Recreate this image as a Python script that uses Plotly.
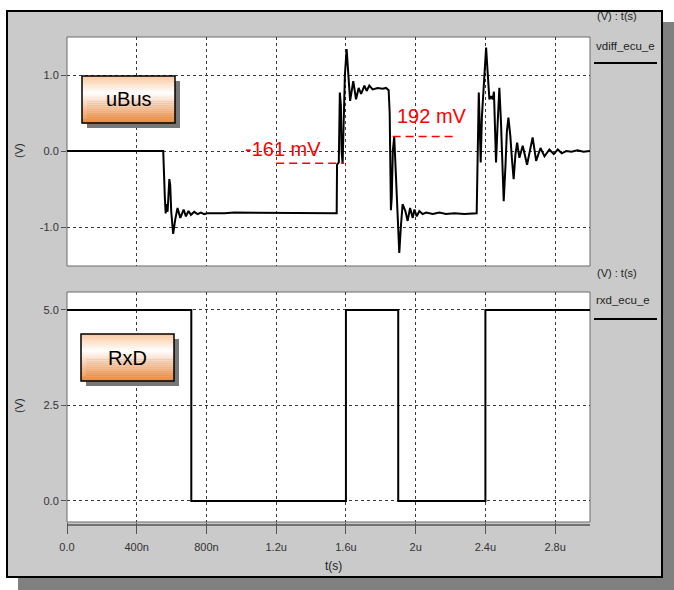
import plotly.graph_objects as go

W, H = 674, 590

# ---------------- data ----------------
# differential bus voltage (V) vs time (µs)
t_bus = [0.000, 0.552, 0.561, 0.566, 0.572, 0.577, 0.587, 0.592, 0.598, 0.609,
         0.621, 0.634, 0.650, 0.669, 0.682, 0.697, 0.711, 0.730, 0.749, 0.768,
         0.787, 0.805, 0.902, 0.960, 1.547, 1.549, 1.559, 1.565, 1.571, 1.575,
         1.581, 1.588, 1.594, 1.604, 1.611, 1.624, 1.642, 1.658, 1.673, 1.687,
         1.706, 1.719, 1.734, 1.753, 1.782, 1.811, 1.830, 1.845, 1.851, 1.858,
         1.863, 1.869, 1.877, 1.882, 1.888, 1.892, 1.898, 1.906, 1.915, 1.925,
         1.941, 1.954, 1.968, 1.983, 1.993, 2.006, 2.021, 2.040, 2.060, 2.098,
         2.136, 2.174, 2.222, 2.279, 2.350, 2.354, 2.362, 2.368, 2.373, 2.380,
         2.386, 2.391, 2.404, 2.411, 2.423, 2.433, 2.442, 2.449, 2.455, 2.461,
         2.469, 2.480, 2.489, 2.498, 2.505, 2.515, 2.523, 2.532, 2.543, 2.552,
         2.562, 2.572, 2.582, 2.595, 2.614, 2.639, 2.652, 2.671, 2.691, 2.716,
         2.739, 2.767, 2.792, 2.815, 2.838, 2.863, 2.894, 2.928, 2.962, 3.000]
v_bus = [0.00, 0.00, -0.60, -0.82, -0.70, -0.80, -0.37, -0.45, -0.80, -1.09,
         -0.90, -0.75, -0.88, -0.77, -0.86, -0.79, -0.84, -0.80, -0.83, -0.81,
         -0.83, -0.82, -0.82, -0.81, -0.82, -0.18, -0.15, 0.77, 0.60, 0.00,
         -0.17, 0.40, 1.00, 1.34, 1.10, 0.66, 0.92, 0.68, 0.83, 0.75,
         0.86, 0.79, 0.86, 0.81, 0.83, 0.82, 0.83, 0.80, 0.50, -0.78,
         -0.60, 0.00, 0.19, -0.10, -0.35, -0.50, -1.00, -1.34, -1.00, -0.70,
         -0.79, -0.92, -0.75, -0.88, -0.77, -0.86, -0.79, -0.83, -0.81, -0.83,
         -0.81, -0.83, -0.82, -0.83, -0.82, -0.15, 0.77, 0.30, -0.15, 0.45,
         0.72, 0.90, 1.36, 1.10, 0.68, 0.72, 0.68, 0.78, 0.40, -0.15,
         0.30, 0.83, 0.40, -0.30, -0.66, -0.20, 0.25, 0.44, 0.20, -0.10,
         -0.37, -0.05, 0.11, -0.09, 0.07, -0.18, -0.02, 0.18, -0.13, 0.04,
         -0.07, 0.02, -0.04, 0.02, -0.03, 0.00, -0.01, 0.01, -0.01, 0.00]

# receiver output (V): step levels at edge times (µs)
t_rxd = [0.0, 0.713, 1.6, 1.9, 2.4, 3.0]
v_rxd = [5.0, 0.0, 5.0, 0.0, 5.0, 5.0]

# measured levels (V) and the time spans of their markers (µs)
level_names = ["-161 mV", "192 mV"]
level_values = [-0.161, 0.192]
level_t0 = [1.2, 1.868]
level_t1 = [1.59, 2.228]

x_tickvals = [0.0, 0.4, 0.8, 1.2, 1.6, 2.0, 2.4, 2.8]
x_ticktext = ["0.0", "400n", "800n", "1.2u", "1.6u", "2u", "2.4u", "2.8u"]
y1_tickvals = [1.0, 0.0, -1.0]
y1_ticktext = ["1.0", "0.0", "-1.0"]
y2_tickvals = [5.0, 2.5, 0.0]
y2_ticktext = ["5.0", "2.5", "0.0"]

# ---------------- layout helpers ----------------
def fx(px):
    return px / W

def fy(py):
    return 1 - py / H

FONT = "Liberation Sans"
PLOT_L, PLOT_R = 67, 590
TOP_T, TOP_B = 37, 266
BOT_T, BOT_B = 292, 522

fig = go.Figure()
fig.add_trace(go.Scatter(x=t_bus, y=v_bus, mode="lines",
                         line=dict(color="black", width=2),
                         xaxis="x", yaxis="y", showlegend=False,
                         hoverinfo="skip"))
fig.add_trace(go.Scatter(x=t_rxd, y=v_rxd, mode="lines", line_shape="hv",
                         line=dict(color="black", width=2),
                         xaxis="x2", yaxis="y2", showlegend=False,
                         hoverinfo="skip"))

shapes = []
# shadow + frame
shapes.append(dict(type="rect", xref="paper", yref="paper", layer="below",
                   x0=fx(18), x1=fx(674), y0=fy(590), y1=fy(22),
                   fillcolor="#808080", line=dict(width=0)))
shapes.append(dict(type="rect", xref="paper", yref="paper", layer="below",
                   x0=fx(7), x1=fx(662), y0=fy(577), y1=fy(11),
                   fillcolor="#cacaca", line=dict(color="black", width=2)))
# plot areas
for (t, b) in [(TOP_T, TOP_B), (BOT_T, BOT_B)]:
    shapes.append(dict(type="rect", xref="paper", yref="paper", layer="below",
                       x0=fx(PLOT_L), x1=fx(PLOT_R), y0=fy(b), y1=fy(t),
                       fillcolor="white", line=dict(color="#6a6a6a", width=1)))
# bottom axis line
shapes.append(dict(type="line", xref="paper", yref="paper", layer="above",
                   x0=fx(PLOT_L), x1=fx(PLOT_R), y0=fy(525), y1=fy(525),
                   line=dict(color="#555555", width=1.5)))
# legend sample lines
for ly in [63, 319]:
    shapes.append(dict(type="line", xref="paper", yref="paper", layer="above",
                       x0=fx(594), x1=fx(657), y0=fy(ly), y1=fy(ly),
                       line=dict(color="black", width=2)))

# gradient label boxes
def grad_color(f):
    stops = [(0.0, (250, 200, 158)), (0.36, (255, 255, 255)), (1.0, (240, 136, 56))]
    for (a, ca), (b, cb) in zip(stops[:-1], stops[1:]):
        if a <= f <= b:
            k = (f - a) / (b - a)
            c = [round(ca[i] + (cb[i] - ca[i]) * k) for i in range(3)]
            return "rgb(%d,%d,%d)" % tuple(c)
    return "rgb(240,136,56)"

def label_box(x0, y0, x1, y1):
    shapes.append(dict(type="rect", xref="paper", yref="paper", layer="above",
                       x0=fx(x0 + 5), x1=fx(x1 + 5), y0=fy(y1 + 5), y1=fy(y0 + 5),
                       fillcolor="#777777", line=dict(width=0)))
    n = 24
    hgt = (y1 - y0) / n
    for i in range(n):
        ya = y0 + i * hgt
        shapes.append(dict(type="rect", xref="paper", yref="paper", layer="above",
                           x0=fx(x0), x1=fx(x1), y0=fy(ya + hgt + 0.4), y1=fy(ya),
                           fillcolor=grad_color((i + 0.5) / n), line=dict(width=0)))
    shapes.append(dict(type="rect", xref="paper", yref="paper", layer="above",
                       x0=fx(x0), x1=fx(x1), y0=fy(y1), y1=fy(y0),
                       fillcolor="rgba(0,0,0,0)", line=dict(color="black", width=1.5)))

label_box(82, 76, 175, 123)
label_box(81, 334, 174, 381)

# red measurement markers
for val, a, b in zip(level_values, level_t0, level_t1):
    shapes.append(dict(type="line", xref="x", yref="y", layer="above",
                       x0=a, x1=b, y0=val, y1=val,
                       line=dict(color="red", width=1.5, dash="8px,5px")))

annotations = []
def text(x, y, s, size=11, color="#222222", xanchor="center", angle=0):
    annotations.append(dict(x=fx(x), y=fy(y), xref="paper", yref="paper",
                            text=s, showarrow=False, xanchor=xanchor,
                            yanchor="middle", textangle=angle,
                            font=dict(family=FONT, size=size, color=color)))

text(128.5, 99.5, "uBus", size=20, color="black")
text(127.5, 357.5, "RxD", size=20, color="black")
text(595, 16, "(V) : t(s)", size=11, xanchor="left")
text(594, 46, "vdiff_ecu_e", size=11.5, xanchor="left")
text(595, 273, "(V) : t(s)", size=11, xanchor="left")
text(594, 300, "rxd_ecu_e", size=11.5, xanchor="left")
text(19, 151, "(V)", size=11, angle=-90)
text(19, 406, "(V)", size=11, angle=-90)
text(333, 566, "t(s)", size=12)

# red level labels placed at their measured levels
annotations.append(dict(x=1.241, y=0.026, xref="x", yref="y", text=level_names[0],
                        showarrow=False, font=dict(family=FONT, size=20, color="red")))
annotations.append(dict(x=2.096, y=0.46, xref="x", yref="y", text=level_names[1],
                        showarrow=False, font=dict(family=FONT, size=20, color="red")))

grid = dict(showgrid=True, gridcolor="#3a3a3a", griddash="dot", gridwidth=1,
            zeroline=False, showline=False, automargin=False)
tickfont = dict(family=FONT, size=11, color="#333333")

fig.update_layout(
    width=W, height=H,
    margin=dict(l=0, r=0, t=0, b=0, pad=0),
    paper_bgcolor="white", plot_bgcolor="rgba(0,0,0,0)",
    showlegend=False,
    xaxis=dict(domain=[fx(PLOT_L), fx(PLOT_R)], range=[0, 3.0], anchor="y",
               tickvals=x_tickvals, ticktext=x_ticktext, showticklabels=False,
               ticks="", **grid),
    yaxis=dict(domain=[fy(TOP_B), fy(TOP_T)], range=[-1.513, 1.5], anchor="x",
               tickvals=y1_tickvals, ticktext=y1_ticktext, ticks="outside",
               ticklen=5, tickcolor="#555555", tickfont=tickfont, **grid),
    xaxis2=dict(domain=[fx(PLOT_L), fx(PLOT_R)], range=[0, 3.0], anchor="y2",
                tickvals=x_tickvals, ticktext=x_ticktext, ticks="outside",
                ticklen=11, tickcolor="#555555", tickfont=tickfont,
                ticklabelstandoff=4, **grid),
    yaxis2=dict(domain=[fy(BOT_B), fy(BOT_T)], range=[-0.55, 5.471], anchor="x2",
                tickvals=y2_tickvals, ticktext=y2_ticktext, ticks="outside",
                ticklen=5, tickcolor="#555555", tickfont=tickfont, **grid),
    shapes=shapes,
    annotations=annotations,
)

fig.write_html("out.html",
               config={"displayModeBar": False},
               post_script="document.body.style.margin='0';document.body.style.overflow='hidden';")
